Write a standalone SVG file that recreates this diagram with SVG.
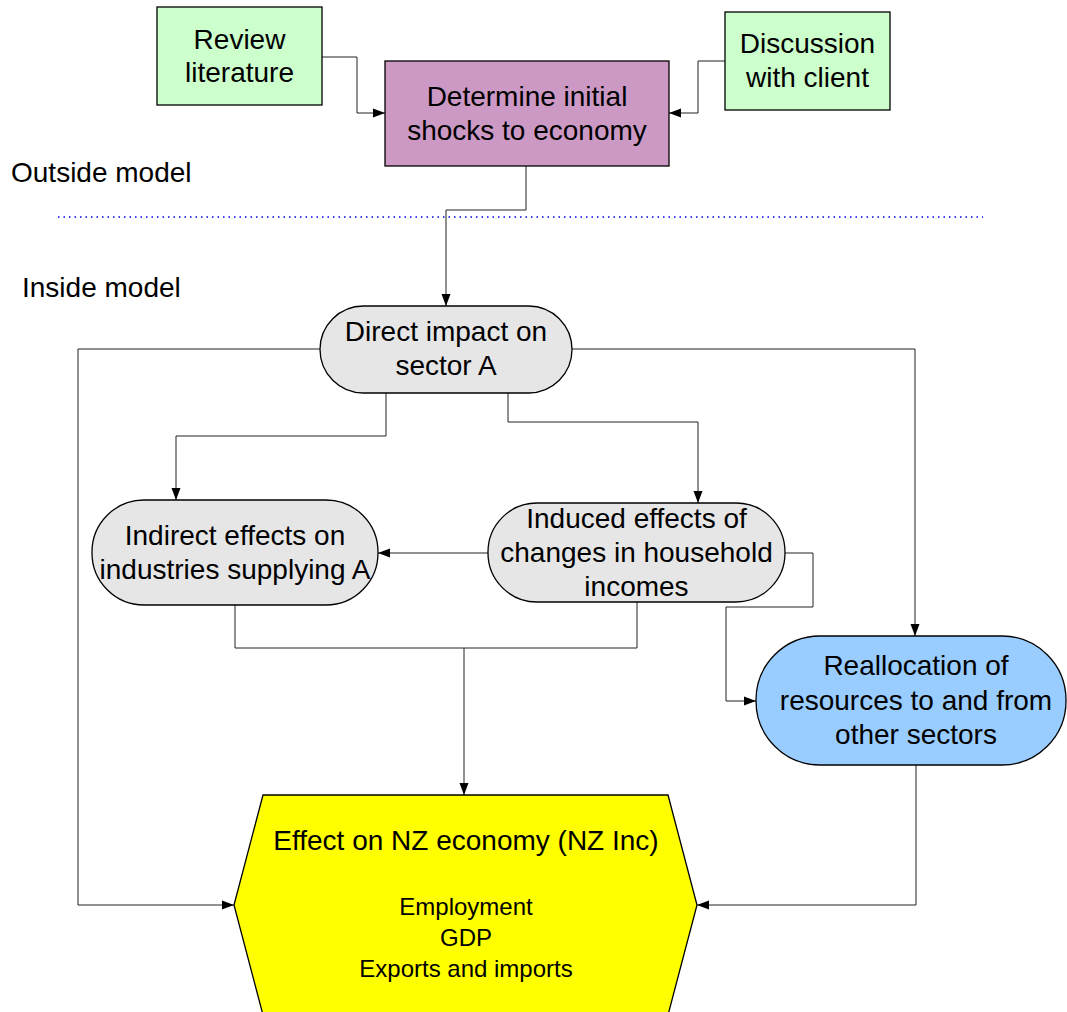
<svg xmlns="http://www.w3.org/2000/svg" width="1067" height="1012" viewBox="0 0 1067 1012">
<style>
text{font-family:"Liberation Sans",Arial,sans-serif;fill:#000;text-anchor:middle}
.t{font-size:28px}
.s{font-size:24px}
.l{text-anchor:start}
.node{stroke:#000;stroke-width:1.3}
.c{fill:none;stroke:#222;stroke-width:1}
</style>
<defs>
<marker id="ah" viewBox="0 0 12 10" refX="12" refY="5" markerWidth="12" markerHeight="10" markerUnits="userSpaceOnUse" orient="auto">
<path d="M0,0.5 L12,5 L0,9.5 z" fill="#000"/>
</marker>
</defs>
<rect width="1067" height="1012" fill="#fff"/>
<g id="labels">
<text class="t l" x="11" y="182">Outside model</text>
<text class="t l" x="22" y="297">Inside model</text>
<line x1="58" y1="217" x2="983" y2="217" stroke="#0000ee" stroke-width="1.5" stroke-dasharray="1.5,4"/>
</g>
<g id="connectors">
<path class="c" d="M322,57 H357 V113 H385" marker-end="url(#ah)"/>
<path class="c" d="M725,61 H698 V113 H669" marker-end="url(#ah)"/>
<path class="c" d="M526,166 V210 H446 V306" marker-end="url(#ah)"/>
<path class="c" d="M320,349 H78 V905 H234" marker-end="url(#ah)"/>
<path class="c" d="M572,349 H915 V636" marker-end="url(#ah)"/>
<path class="c" d="M386,393 V436 H176 V500" marker-end="url(#ah)"/>
<path class="c" d="M508,393 V422 H698 V503" marker-end="url(#ah)"/>
<path class="c" d="M488,553 H378" marker-end="url(#ah)"/>
<path class="c" d="M785,553 H813 V607 H726 V701 H756" marker-end="url(#ah)"/>
<path class="c" d="M235,605 V648 H637 V602"/>
<path class="c" d="M464,648 V795" marker-end="url(#ah)"/>
<path class="c" d="M916,765 V905 H697" marker-end="url(#ah)"/>
</g>
<g id="review">
<rect class="node" x="157" y="7" width="165" height="98" fill="#ccffcc"/>
<text class="t" x="239.5" y="49">Review</text>
<text class="t" x="239.5" y="82">literature</text>
</g>
<g id="determine">
<rect class="node" x="385" y="61" width="284" height="105" fill="#cc99c4"/>
<text class="t" x="527" y="106">Determine initial</text>
<text class="t" x="527" y="140">shocks to economy</text>
</g>
<g id="discussion">
<rect class="node" x="725" y="12" width="165" height="98" fill="#ccffcc"/>
<text class="t" x="807.5" y="53">Discussion</text>
<text class="t" x="807.5" y="87">with client</text>
</g>
<g id="direct">
<rect class="node" x="320" y="306" width="252" height="87" rx="43.5" fill="#e6e6e6"/>
<text class="t" x="446" y="341">Direct impact on</text>
<text class="t" x="446" y="375">sector A</text>
</g>
<g id="indirect">
<rect class="node" x="92" y="500" width="286" height="105" rx="52" fill="#e6e6e6"/>
<text class="t" x="235" y="545">Indirect effects on</text>
<text class="t" x="235" y="579">industries supplying A</text>
</g>
<g id="induced">
<rect class="node" x="488" y="503" width="297" height="99" rx="49" fill="#e6e6e6"/>
<text class="t" x="636.5" y="528">Induced effects of</text>
<text class="t" x="636.5" y="562">changes in household</text>
<text class="t" x="636.5" y="596">incomes</text>
</g>
<g id="reallocation">
<rect class="node" x="756" y="636" width="310" height="129" rx="64" fill="#99ccff"/>
<text class="t" x="916" y="675">Reallocation of</text>
<text class="t" x="916" y="710">resources to and from</text>
<text class="t" x="916" y="744">other sectors</text>
</g>
<g id="effect">
<polygon class="node" points="263,795 668,795 697,905 668,1015 263,1015 234,905" fill="#ffff00"/>
<text class="t" x="466" y="850">Effect on NZ economy (NZ Inc)</text>
<text class="s" x="466" y="915">Employment</text>
<text class="s" x="466" y="946">GDP</text>
<text class="s" x="466" y="977">Exports and imports</text>
</g>
</svg>
